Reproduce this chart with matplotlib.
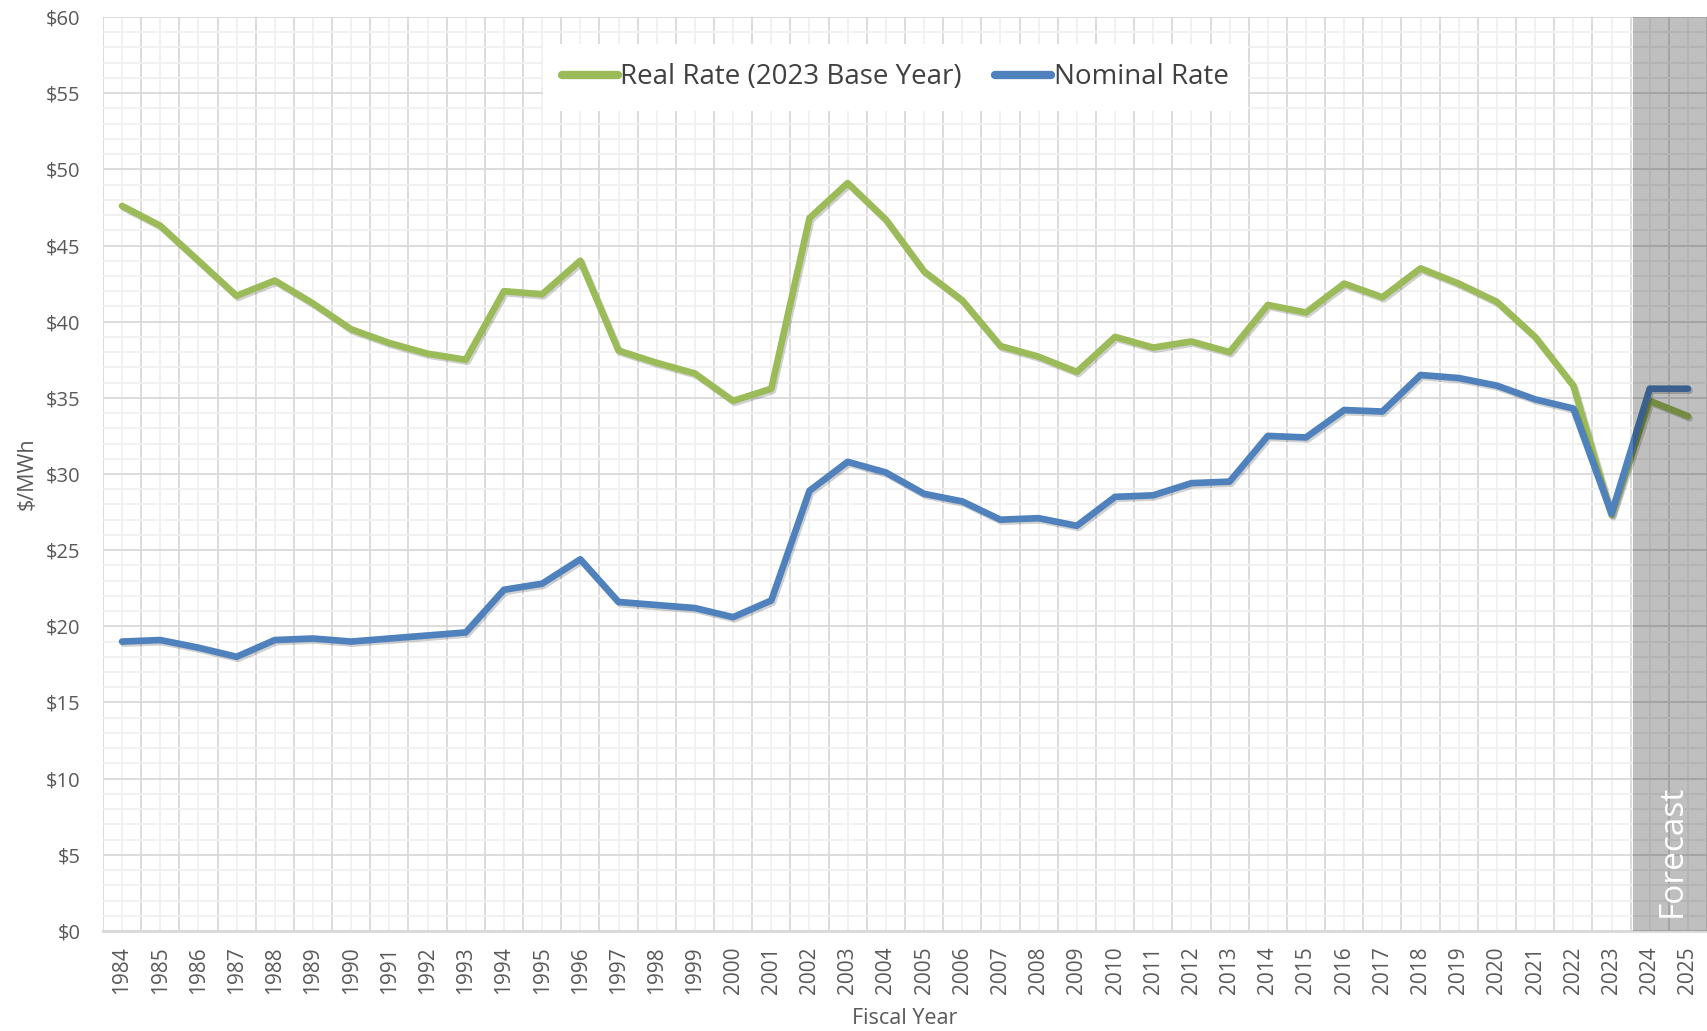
import matplotlib
matplotlib.use("Agg")
import matplotlib.pyplot as plt
import matplotlib.patheffects as pe
import numpy as np

years = [str(y) for y in range(1984, 2026)]
real_rate = [47.6, 46.3, 44.0, 41.7, 42.7, 41.2, 39.5, 38.6, 37.9, 37.5,
             42.0, 41.8, 44.0, 38.1, 37.3, 36.6, 34.8, 35.6, 46.8, 49.1,
             46.7, 43.3, 41.4, 38.4, 37.7, 36.7, 39.0, 38.3, 38.7, 38.0,
             41.1, 40.6, 42.5, 41.6, 43.5, 42.5, 41.3, 39.0, 35.8, 27.3,
             34.8, 33.8]
nominal_rate = [19.0, 19.1, 18.6, 18.0, 19.1, 19.2, 19.0, 19.2, 19.4, 19.6,
                22.4, 22.8, 24.4, 21.6, 21.4, 21.2, 20.6, 21.7, 28.9, 30.8,
                30.1, 28.7, 28.2, 27.0, 27.1, 26.6, 28.5, 28.6, 29.4, 29.5,
                32.5, 32.4, 34.2, 34.1, 36.5, 36.3, 35.8, 34.9, 34.3, 27.4,
                35.6, 35.6]
forecast_years = ["2024", "2025"]
yticks = list(range(0, 61, 5))
ytick_labels = ["$" + str(v) for v in yticks]
series_labels = ["Real Rate (2023 Base Year)", "Nominal Rate"]

plt.rcParams['font.family'] = ['Open Sans', 'DejaVu Sans']

fig = plt.figure(figsize=(17.07, 10.31), dpi=100)
ax = fig.add_axes([0.0603, 0.097, 0.9397, 0.8865])

x = np.arange(len(years))
shadow = [pe.SimpleLineShadow(offset=(1.2, -1.5), alpha=0.18, shadow_color='black'), pe.Normal()]
ax.plot(x, real_rate, color='#9BBB59', lw=4.8, solid_capstyle='round',
        solid_joinstyle='round', label=series_labels[0], zorder=3, path_effects=shadow)
ax.plot(x, nominal_rate, color='#4F81BD', lw=4.8, solid_capstyle='round',
        solid_joinstyle='round', label=series_labels[1], zorder=4, path_effects=shadow)

ax.set_xlim(-0.5, len(years) - 0.5)
ax.set_ylim(0, 60)

# ticks & grid
ax.set_xticks(x)
ax.set_xticklabels(years, rotation=90)
ax.set_xticks(np.arange(-0.5, len(years)), minor=True)
ax.set_yticks(yticks)
ax.set_yticklabels(ytick_labels)
ax.set_yticks(np.arange(0, 61, 1), minor=True)

ax.grid(which='major', axis='y', color='#d9d9d9', lw=1.3, zorder=0)
ax.grid(which='minor', axis='y', color='#f0f0f0', lw=1.3, zorder=0)
ax.grid(which='minor', axis='x', color='#d9d9d9', lw=1.3, zorder=0)
ax.grid(which='major', axis='x', color='#f0f0f0', lw=1.3, zorder=0)
ax.set_axisbelow(True)

ax.tick_params(which='both', length=0)
ax.tick_params(axis='y', pad=16, labelsize=14.5, labelcolor='#595959')
ax.tick_params(axis='x', pad=11, labelsize=15, labelcolor='#595959')

for s in ['top', 'right', 'left']:
    ax.spines[s].set_visible(False)
ax.spines['bottom'].set_color('#d9d9d9')
ax.spines['bottom'].set_linewidth(2)

# forecast shading
i0 = years.index(forecast_years[0])
i1 = years.index(forecast_years[-1])
ax.axvspan(i0 - 0.45, i1 + 0.5, color='black', alpha=0.25, lw=0, zorder=6)
ax.text((i0 + i1) / 2 + 0.1, 0.9, 'Forecast', rotation=90, ha='center', va='bottom',
        color='white', fontsize=24, zorder=7)

ax.set_ylabel('$/MWh', fontsize=15.5, color='#595959', labelpad=6)
ax.set_xlabel('Fiscal Year', fontsize=15.5, color='#595959', labelpad=10)

leg = ax.legend(loc='center', bbox_to_anchor=(0.494, 0.934), ncol=2, frameon=True,
                fancybox=False, edgecolor='none', facecolor='white', framealpha=1,
                handlelength=2.0, handletextpad=0.1, columnspacing=1.2,
                borderpad=0.7, prop={'family': ['Liberation Sans Narrow', 'Open Sans'], 'size': 20})
for t in leg.get_texts():
    t.set_color('#404040')
for h in leg.get_lines():
    h.set_path_effects([])
    h.set_linewidth(6)
leg.set_zorder(8)

fig.savefig('out.png', dpi=100)
